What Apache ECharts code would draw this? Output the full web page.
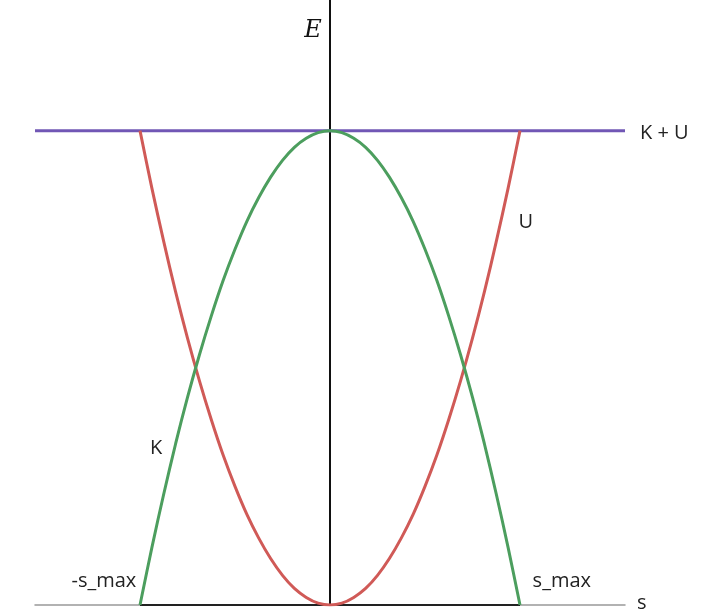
<!DOCTYPE html>
<html><head><meta charset="utf-8">
<script src="https://cdn.jsdelivr.net/npm/echarts@6/dist/echarts.min.js"></script>
<style>html,body{margin:0;padding:0;background:#fff;overflow:hidden}#c{width:706px;height:613px}</style>
</head><body><div id="c"></div>
<script>
// positions along the track (s / s_max)
const sValues = [-1, -0.9375, -0.875, -0.8125, -0.75, -0.6875, -0.625, -0.5625, -0.5, -0.4375, -0.375, -0.3125, -0.25, -0.1875, -0.125, -0.0625, 0,
  0.0625, 0.125, 0.1875, 0.25, 0.3125, 0.375, 0.4375, 0.5, 0.5625, 0.625, 0.6875, 0.75, 0.8125, 0.875, 0.9375, 1];
// potential energy U (relative to total E)
const uValues = [1, 0.879, 0.766, 0.660, 0.5625, 0.473, 0.391, 0.316, 0.25, 0.191, 0.141, 0.098, 0.0625, 0.035, 0.016, 0.004, 0,
  0.004, 0.016, 0.035, 0.0625, 0.098, 0.141, 0.191, 0.25, 0.316, 0.391, 0.473, 0.5625, 0.660, 0.766, 0.879, 1];
// kinetic energy K
const kValues = [0, 0.121, 0.234, 0.340, 0.4375, 0.527, 0.609, 0.684, 0.75, 0.809, 0.859, 0.902, 0.9375, 0.965, 0.984, 0.996, 1,
  0.996, 0.984, 0.965, 0.9375, 0.902, 0.859, 0.809, 0.75, 0.684, 0.609, 0.527, 0.4375, 0.340, 0.234, 0.121, 0];
// total energy K + U
const totalS = [-1.5526, 1.5526];
const totalE = [1, 1];
const sMaxRange = [-1, 1];

const chart = echarts.init(document.getElementById('c'));
const font = '"Open Sans", "Noto Sans", sans-serif';
const lbl = (text, s, e) => ({
  value: [s, e],
  label: { show: true, formatter: text, position: 'inside', color: '#222', fontSize: 20, fontFamily: font }
});
chart.setOption({
  animation: false,
  grid: { left: 35, right: 81, top: 0, bottom: 1, containLabel: false },
  xAxis: {
    type: 'value', min: -1.5526, max: 1.5526,
    axisLine: { show: true, lineStyle: { color: '#999', width: 1.5 } },
    axisTick: { show: false }, axisLabel: { show: false }, splitLine: { show: false },
    name: 's', nameLocation: 'end', nameGap: 12,
    nameTextStyle: { color: '#222', fontSize: 20, fontFamily: font, verticalAlign: 'bottom', padding: [0, 0, -8, 0] }
  },
  yAxis: {
    type: 'value', min: 0, max: 1.2755,
    axisLine: { show: true, onZero: true, lineStyle: { color: '#111', width: 2 } },
    axisTick: { show: false }, axisLabel: { show: false }, splitLine: { show: false }
  },
  series: [
    { type: 'line', data: sMaxRange.map(s => [s, 0]), symbol: 'none',
      lineStyle: { color: '#222', width: 2 }, z: 2 },
    { type: 'line', data: totalS.map((s, i) => [s, totalE[i]]), symbol: 'none',
      lineStyle: { color: '#7157b5', width: 3 }, z: 3,
      endLabel: { show: true, formatter: 'K + U', distance: 15, offset: [0, 3], color: '#222', fontSize: 20, fontFamily: font } },
    { type: 'line', data: sValues.map((s, i) => [s, uValues[i]]), symbol: 'none', smooth: 0.3,
      lineStyle: { color: '#d05a57', width: 3 }, z: 4 },
    { type: 'line', data: sValues.map((s, i) => [s, kValues[i]]), symbol: 'none', smooth: 0.3,
      lineStyle: { color: '#4c9e5e', width: 3 }, z: 4 },
    { type: 'scatter', symbolSize: 0, silent: true, z: 5, itemStyle: { opacity: 1 },
      data: [lbl('U', 1.03, 0.806), lbl('K', -0.915, 0.33), lbl('-s_max', -1.19, 0.05), lbl('s_max', 1.22, 0.05)] },
    { type: 'scatter', symbolSize: 0, silent: true, z: 5, itemStyle: { opacity: 1 },
      data: [{ value: [-0.09, 1.21], label: { show: true, formatter: 'E', position: 'inside', color: '#111', fontSize: 24, fontStyle: 'italic', fontFamily: '"DejaVu Serif", "Liberation Serif", serif' } }] }
  ]
});
</script></body></html>
